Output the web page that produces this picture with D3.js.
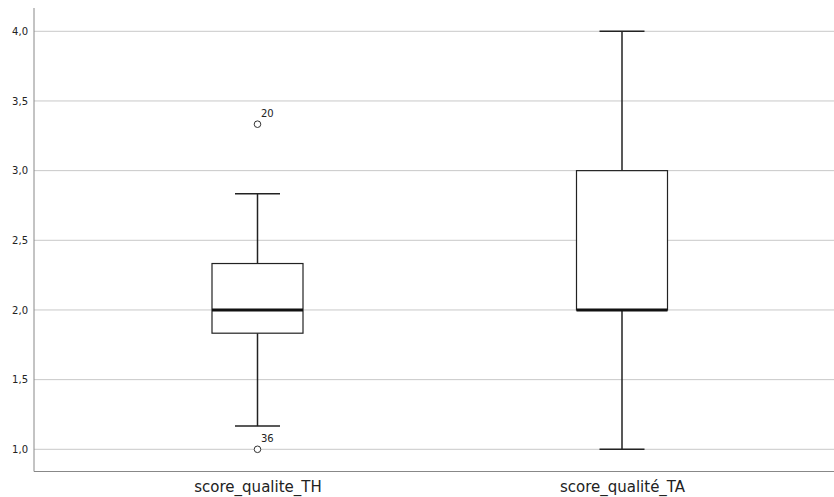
<!DOCTYPE html>
<html>
<head>
<meta charset="utf-8">
<script src="https://cdn.jsdelivr.net/npm/d3@7"></script>
<style>
  html, body { margin: 0; padding: 0; background: #fff; }
  svg { display: block; }
  text { font-family: "DejaVu Sans", sans-serif; fill: #222; }
</style>
</head>
<body>
<svg id="chart" width="834" height="497"></svg>
<script>
// Data
const categories = ["score_qualite_TH", "score_qualité_TA"];
const whiskerLow = [1.1667, 1.0];
const q1 = [1.8333, 2.0];
const median = [2.0, 2.0];
const q3 = [2.3333, 3.0];
const whiskerHigh = [2.8333, 4.0];
const outlierCat = ["score_qualite_TH", "score_qualite_TH"];
const outlierVal = [3.3333, 1.0];
const outlierLabel = ["20", "36"];
const yTicks = [1.0, 1.5, 2.0, 2.5, 3.0, 3.5, 4.0];

const svg = d3.select("#chart");
const plotLeft = 34, plotRight = 834, plotTop = 8, plotBottom = 471.5;
const FONT = "DejaVu Sans, sans-serif";

const y = d3.scaleLinear().domain([1, 4]).range([449.3, 31.3]);
const x = d3.scalePoint().domain(categories).range([257.5, 622]).padding(0);

const boxW = 91, capW = 45;
const fmt = v => d3.format(".1f")(v).replace(".", ",");

// Gridlines
svg.append("g").selectAll("line").data(yTicks).join("line")
  .attr("x1", plotLeft).attr("x2", plotRight)
  .attr("y1", d => y(d)).attr("y2", d => y(d))
  .attr("stroke", "#c8c8c8").attr("stroke-width", 1);

// Y axis
const yAxis = d3.axisLeft(y).tickValues(yTicks).tickFormat(fmt).tickSize(0).tickPadding(6);
const gy = svg.append("g").attr("transform", `translate(${plotLeft},0)`).call(yAxis);
gy.select(".domain").remove();
gy.selectAll("text").style("font-size", "10px").style("font-family", FONT).attr("fill", "#222");
svg.append("line").attr("x1", plotLeft).attr("x2", plotLeft).attr("y1", plotTop).attr("y2", plotBottom)
  .attr("stroke", "#888").attr("stroke-width", 1);

// X axis
const xAxis = d3.axisBottom(x).tickSize(0).tickPadding(10.3);
const gx = svg.append("g").attr("transform", `translate(0,${plotBottom})`).call(xAxis);
gx.select(".domain").remove();
gx.selectAll("text").style("font-size", "15px").style("font-family", FONT).attr("fill", "#222");
svg.append("line").attr("x1", plotLeft).attr("x2", plotRight).attr("y1", plotBottom).attr("y2", plotBottom)
  .attr("stroke", "#888").attr("stroke-width", 1);

// Boxes
const idx = d3.range(categories.length);
const g = svg.append("g");
// whiskers
g.selectAll(".wl").data(idx).join("line")
  .attr("x1", i => x(categories[i])).attr("x2", i => x(categories[i]))
  .attr("y1", i => y(whiskerLow[i])).attr("y2", i => y(q1[i]))
  .attr("stroke", "#222").attr("stroke-width", 1.5);
g.selectAll(".wh").data(idx).join("line")
  .attr("x1", i => x(categories[i])).attr("x2", i => x(categories[i]))
  .attr("y1", i => y(whiskerHigh[i])).attr("y2", i => y(q3[i]))
  .attr("stroke", "#222").attr("stroke-width", 1.5);
// caps
[whiskerLow, whiskerHigh].forEach(arr => {
  g.append("g").selectAll("line").data(idx).join("line")
    .attr("x1", i => x(categories[i]) - capW / 2).attr("x2", i => x(categories[i]) + capW / 2)
    .attr("y1", i => y(arr[i])).attr("y2", i => y(arr[i]))
    .attr("stroke", "#222").attr("stroke-width", 1.5);
});
// box
g.append("g").selectAll("rect").data(idx).join("rect")
  .attr("x", i => x(categories[i]) - boxW / 2).attr("width", boxW)
  .attr("y", i => y(q3[i])).attr("height", i => y(q1[i]) - y(q3[i]))
  .attr("fill", "#fff").attr("stroke", "#222").attr("stroke-width", 1.2);
// median
g.append("g").selectAll("line").data(idx).join("line")
  .attr("x1", i => x(categories[i]) - boxW / 2).attr("x2", i => x(categories[i]) + boxW / 2)
  .attr("y1", i => y(median[i])).attr("y2", i => y(median[i]))
  .attr("stroke", "#111").attr("stroke-width", 3);

// outliers
const catOf = c => categories.find(k => k.normalize("NFD").replace(/[\u0300-\u036f]/g, "") === c);
const oi = d3.range(outlierVal.length);
g.append("g").selectAll("circle").data(oi).join("circle")
  .attr("cx", i => x(catOf(outlierCat[i])))
  .attr("cy", i => y(outlierVal[i])).attr("r", 3.3)
  .attr("fill", "#fff").attr("stroke", "#333").attr("stroke-width", 1);
g.append("g").selectAll("text").data(oi).join("text")
  .attr("x", i => x(catOf(outlierCat[i])) + 3.5)
  .attr("y", i => y(outlierVal[i]) - 7.6)
  .style("font-size", "10px").style("font-family", FONT)
  .text(i => outlierLabel[i]);
</script>
</body>
</html>
